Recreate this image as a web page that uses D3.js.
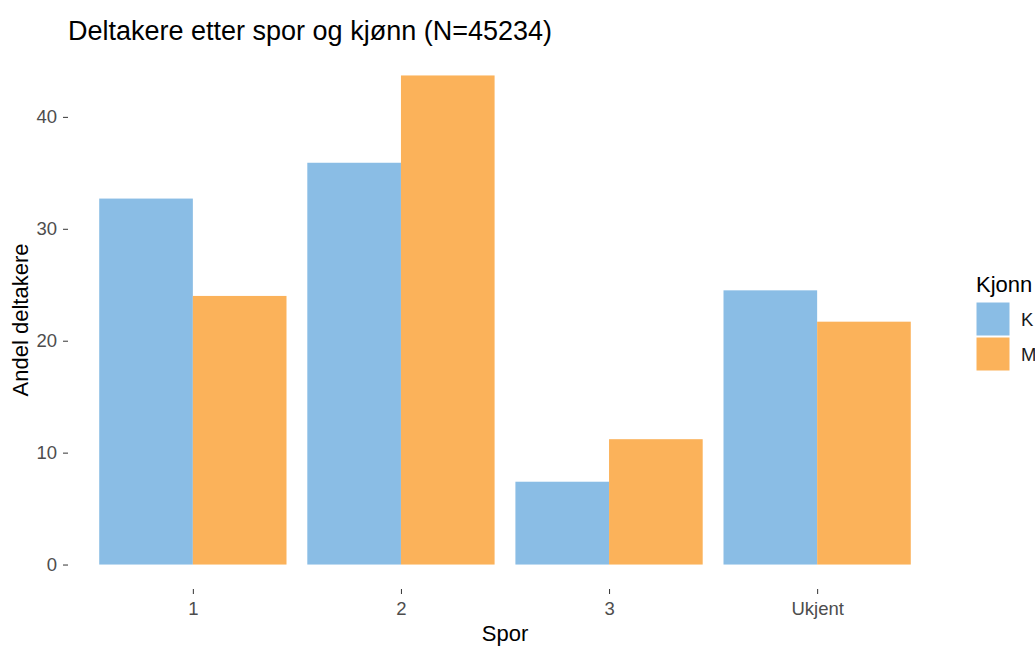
<!DOCTYPE html>
<html lang="en">
	<head>
		<meta charset="utf-8">
		<title>Deltakere etter spor og kjønn</title>
		<script type="text/javascript" src="https://cdnjs.cloudflare.com/ajax/libs/d3/7.8.5/d3.min.js"></script>
		<style type="text/css">
			body { margin: 0; background: #fff; }
			svg { display: block; font-family: 'Liberation Sans', Arial, sans-serif; }
		</style>
	</head>
	<body>
		<script type="text/javascript">

			// data
			var spor = ['1', '2', '3', 'Ukjent']
			var kjonn = ['K', 'M']
			var andelK = [32.7, 35.9, 7.4, 24.5]
			var andelM = [24.0, 43.7, 11.2, 21.7]
			var yTicks = [0, 10, 20, 30, 40]
			var colors = ['#8ABDE5', '#FBB25A']

			var w = 1035
			var h = 646
			var panel = {left: 68, right: 942, top: 51, bottom: 589}

			var dataset = spor.map((s, i) => ({spor: s, values: [andelK[i], andelM[i]]}))

			// ggplot style discrete expansion: 0.6 units each side
			var step = (panel.right - panel.left) / (spor.length - 1 + 1.2)
			var xScale = d3.scalePoint()
							.domain(spor)
							.range([panel.left + 0.6 * step, panel.right - 0.6 * step])
			var groupW = step * 0.9

			var xSub = d3.scaleBand()
							.domain(kjonn)
							.range([-groupW / 2, groupW / 2])

			var ymax = d3.max(andelM.concat(andelK))
			var yScale = d3.scaleLinear()
							.domain([-ymax * 0.05, ymax * 1.05])
							.range([panel.bottom, panel.top])

			var svg = d3.select('body')
							.append('svg')
							.attr('width', w)
							.attr('height', h)

			svg.append('g')
				.selectAll('g')
				.data(dataset)
				.enter()
				.append('g')
					.attr('transform', d => `translate(${xScale(d.spor)},0)`)
				.selectAll('rect')
					.data(d => d.values.map((v, j) => ({k: kjonn[j], v: v, c: colors[j]})))
					.enter()
					.append('rect')
					.attr('x', d => xSub(d.k))
					.attr('width', xSub.bandwidth())
					.attr('y', d => yScale(d.v))
					.attr('height', d => yScale(0) - yScale(d.v))
					.attr('fill', d => d.c)

			// axes
			var xAxis = g => g
							.attr('transform', `translate(0,${panel.bottom})`)
							.call(d3.axisBottom(xScale).tickSizeInner(5).tickSizeOuter(0).tickPadding(8))
							.call(g => g.select('.domain').remove())

			var yAxis = g => g
							.attr('transform', `translate(${panel.left},0)`)
							.call(d3.axisLeft(yScale).tickValues(yTicks).tickSizeInner(5).tickSizeOuter(0).tickPadding(6))
							.call(g => g.select('.domain').remove())

			svg.append('g').call(xAxis)
				.call(g => g.selectAll('text').attr('font-size', 18.5).attr('fill', '#4D4D4D').attr('font-family', null))
				.call(g => g.selectAll('line').attr('stroke', '#333'))
			svg.append('g').call(yAxis)
				.call(g => g.selectAll('text').attr('font-size', 18.5).attr('fill', '#4D4D4D').attr('font-family', null))
				.call(g => g.selectAll('line').attr('stroke', '#333'))

			// titles
			svg.append('text')
				.attr('x', panel.left)
				.attr('y', 40)
				.attr('font-size', 27)
				.text('Deltakere etter spor og kjønn (N=45234)')

			svg.append('text')
				.attr('x', (panel.left + panel.right) / 2)
				.attr('y', 641)
				.attr('text-anchor', 'middle')
				.attr('font-size', 22)
				.text('Spor')

			svg.append('text')
				.attr('transform', `translate(28,${(panel.top + panel.bottom) / 2}) rotate(-90)`)
				.attr('text-anchor', 'middle')
				.attr('font-size', 22)
				.text('Andel deltakere')

			// legend
			var legend = svg.append('g').attr('transform', 'translate(976,0)')
			legend.append('text')
				.attr('x', 0)
				.attr('y', 292)
				.attr('font-size', 22)
				.text('Kjonn')
			var items = legend.selectAll('g.item')
				.data(kjonn)
				.enter()
				.append('g')
					.attr('class', 'item')
					.attr('transform', (d, i) => `translate(0,${302 + i * 35})`)
			items.append('rect')
				.attr('width', 34)
				.attr('height', 34)
				.attr('fill', (d, i) => colors[i])
				.attr('stroke', '#fff')
			items.append('text')
				.attr('x', 45)
				.attr('y', 24)
				.attr('font-size', 18.5)
				.attr('fill', '#1a1a1a')
				.text(d => d)
		</script>
	</body>
</html>
